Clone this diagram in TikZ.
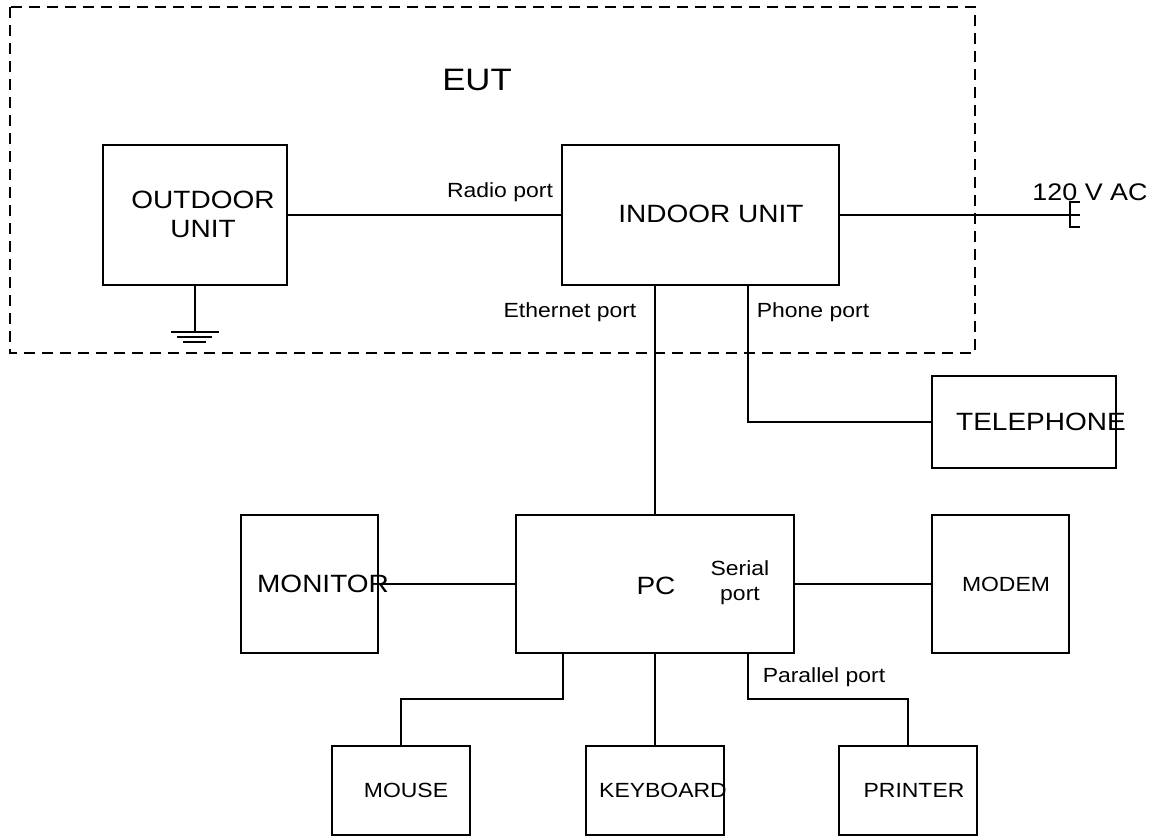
\documentclass[tikz,border=0pt]{standalone}
\usepackage{fontspec}
\usetikzlibrary{calc}
\newfontfamily\labfont[FakeStretch=1.12]{Liberation Sans}
\begin{document}
\begin{tikzpicture}[x=1bp,y=-1bp,
  box/.style={draw,line width=1.2bp,inner sep=0pt},
  wire/.style={line width=1.2bp},
  bigtxt/.style={font=\labfont\fontsize{25bp}{29bp}\selectfont,inner sep=0pt,anchor=base,align=center},
  midtxt/.style={font=\labfont\fontsize{20.5bp}{25bp}\selectfont,inner sep=0pt,anchor=base,align=center},
  eutbox/.style={draw,line width=1.1bp,dash pattern=on 11bp off 7bp}]
\useasboundingbox (0,0) rectangle (1157,838);
% EUT frame
\draw[eutbox] (10,7) rectangle (975,353);
\node[font=\labfont\fontsize{31bp}{36bp}\selectfont,inner sep=0pt,anchor=base] (eut) at (477,90) {EUT};
% boxes
\node[box,minimum width=184bp,minimum height=140bp] (out) at (195,215) {};
\node[box,minimum width=277bp,minimum height=140bp] (ind) at (700.5,215) {};
\node[box,minimum width=184bp,minimum height=92bp] (tel) at (1024,422) {};
\node[box,minimum width=278bp,minimum height=138bp] (pc) at (655,584) {};
\node[box,minimum width=137bp,minimum height=138bp] (mon) at (309.5,584) {};
\node[box,minimum width=137bp,minimum height=138bp] (mod) at (1000.5,584) {};
\node[box,minimum width=138bp,minimum height=89bp] (mouse) at (401,790.5) {};
\node[box,minimum width=138bp,minimum height=89bp] (kbd) at (655,790.5) {};
\node[box,minimum width=138bp,minimum height=89bp] (prn) at (908,790.5) {};
% box texts
\node[bigtxt] (outT) at (203,237) {OUTDOOR\\UNIT};
\node[bigtxt] (indT) at (711,222) {INDOOR UNIT};
\node[bigtxt] (telT) at (1041,430) {TELEPHONE};
\node[bigtxt] (monT) at (323,592) {MONITOR};
\node[bigtxt] (pcT) at (656,594) {PC};
\node[midtxt] (modT) at (1006,591) {MODEM};
\node[midtxt] (mouseT) at (406,797) {MOUSE};
\node[midtxt] (kbdT) at (663,797) {KEYBOARD};
\node[midtxt] (prnT) at (914,797) {PRINTER};
% port labels
\node[midtxt] (radio) at (500,197) {Radio port};
\node[midtxt] (eth) at (570,317) {Ethernet port};
\node[midtxt] (phone) at (813,317) {Phone port};
\node[midtxt] (serial) at (740,600) {Serial\\port};
\node[midtxt] (par) at (824,682) {Parallel port};
\node[font=\labfont\fontsize{24bp}{28bp}\selectfont,inner sep=0pt,anchor=base] (ac) at (1090,200) {120 V AC};
% helper coordinates
\coordinate (phx) at (748,0);
\coordinate (msx) at (563,0);
\coordinate (busy) at (0,699);
\coordinate (gnd) at (195,332);
\coordinate (plug) at (1070,215);
% connectors
\draw[wire] (out.east) -- (ind.west);
\draw[wire] (out.south) -- (gnd);
\draw[wire] ($(gnd)+(-24,0)$) -- ($(gnd)+(24,0)$);
\draw[wire] ($(gnd)+(-18,5)$) -- ($(gnd)+(17,5)$);
\draw[wire] ($(gnd)+(-12,10)$) -- ($(gnd)+(11,10)$);
\draw[wire] (ind.east) -- (plug);
\draw[wire] ($(plug)+(10,-13)$) -- ($(plug)+(0,-13)$) -- ($(plug)+(0,12)$) -- ($(plug)+(10,12)$);
\draw[wire] (plug) -- ($(plug)+(10,0)$);
\draw[wire] (pc.north |- ind.south) -- (pc.north);
\draw[wire] (ind.south -| phx) |- (tel.west);
\draw[wire] (mon.east) -- (pc.west);
\draw[wire] (pc.east) -- (mod.west);
\draw[wire] (pc.south -| msx) -- (msx |- busy) -| (mouse.north);
\draw[wire] (pc.south) -- (kbd.north);
\draw[wire] (pc.south -| phx) -- (phx |- busy) -| (prn.north);
\end{tikzpicture}
\end{document}
